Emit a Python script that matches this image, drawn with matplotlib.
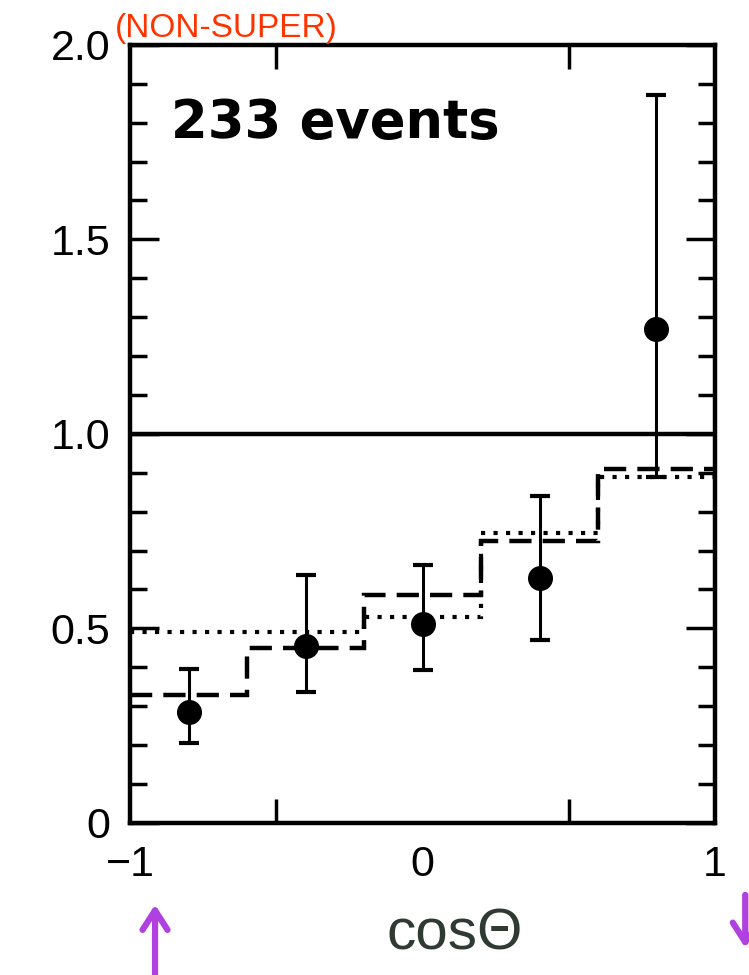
import numpy as np
import matplotlib
matplotlib.use("Agg")
import matplotlib.pyplot as plt
from matplotlib.patches import FancyArrowPatch
from matplotlib.ticker import MultipleLocator, FixedLocator, FixedFormatter

# bins in cos(theta)
bin_edges = [-1.0, -0.6, -0.2, 0.2, 0.6, 1.0]
bin_centers = [-0.8, -0.4, 0.0, 0.4, 0.8]

# measured ratio with asymmetric errors
ratio = [0.285, 0.456, 0.512, 0.63, 1.27]
err_up = [0.11, 0.18, 0.15, 0.21, 0.60]
err_down = [0.08, 0.12, 0.12, 0.16, 0.38]

# two model curves (step histograms)
model_dashed = [0.328, 0.45, 0.586, 0.725, 0.91]
model_dotted = [0.49, 0.49, 0.528, 0.745, 0.89]

y_ticks = [0, 0.5, 1.0, 1.5, 2.0]
y_labels = ['0', '0.5', '1.0', '1.5', '2.0']
x_ticks = [-1, 0, 1]
x_labels = ['\u22121', '0', '1']
n_events = "233 events"

plt.rcParams['font.family'] = ['Liberation Sans', 'DejaVu Sans']

fig = plt.figure(figsize=(7.49, 9.75), dpi=100)
ax = fig.add_axes([0.1736, 0.156, 0.781, 0.798])

ax.stairs(model_dashed, bin_edges, color='black', lw=3.2,
          linestyle=(0, (5, 2.5)), baseline=None)
ax.stairs(model_dotted, bin_edges, color='black', lw=3.0,
          linestyle=(0, (1, 2.0)), baseline=None)

ax.axhline(1.0, color='black', lw=3.2)

ax.errorbar(bin_centers, ratio, yerr=[err_down, err_up], fmt='o',
            color='black', ms=17, elinewidth=2.2, capsize=7, capthick=3)

ax.set_xlim(-1, 1)
ax.set_ylim(0, 2.0)

ax.xaxis.set_major_locator(FixedLocator(x_ticks))
ax.xaxis.set_major_formatter(FixedFormatter(x_labels))
ax.xaxis.set_minor_locator(FixedLocator([-0.5, 0.5]))
ax.yaxis.set_major_locator(FixedLocator(y_ticks))
ax.yaxis.set_major_formatter(FixedFormatter(y_labels))
ax.yaxis.set_minor_locator(MultipleLocator(0.1))

ax.tick_params(axis='both', which='both', direction='in', top=True,
               right=True, labelsize=31, width=2.5)
ax.tick_params(axis='y', which='major', length=21, pad=14)
ax.tick_params(axis='y', which='minor', length=12)
ax.tick_params(axis='x', which='major', length=0, pad=16)
ax.tick_params(axis='x', which='minor', length=17)

for s in ax.spines.values():
    s.set_linewidth(3.2)

ax.text(0.07, 0.9, n_events, transform=ax.transAxes, fontsize=38,
        fontweight='bold', family='DejaVu Sans', ha='left', va='center')

fig.text(0.607, 0.042, 'cos\u0398', fontsize=42, ha='center', va='center',
         color='#2e3a32')

# handwritten note above the frame
fig.text(0.153, 0.962, '(NON-SUPER)', fontsize=24, color='#ff3300',
         ha='left', va='baseline')

# purple arrows drawn below the axis
fig.patches.append(FancyArrowPatch(
    (0.207, -0.01), (0.207, 0.075), transform=fig.transFigure,
    arrowstyle='->,head_length=14,head_width=9', color='#b040e0', lw=4.5,
    mutation_scale=1))
fig.patches.append(FancyArrowPatch(
    (0.995, 0.085), (0.995, 0.025), transform=fig.transFigure,
    arrowstyle='->,head_length=14,head_width=9', color='#b040e0', lw=4.5,
    mutation_scale=1))

fig.savefig('out.png', dpi=100)
